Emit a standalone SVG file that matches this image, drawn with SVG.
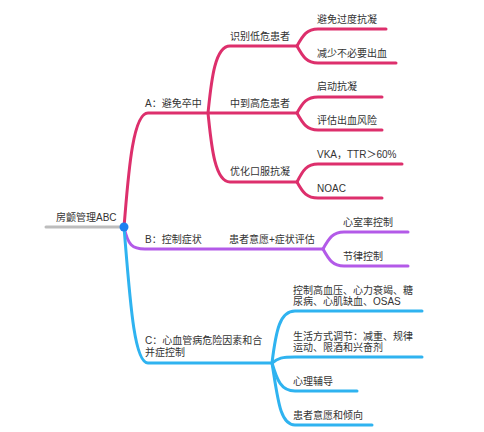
<svg xmlns="http://www.w3.org/2000/svg" width="484" height="432" viewBox="0 0 484 432">
<style>
text{font-family:"Liberation Sans","Noto Sans CJK SC",sans-serif;font-size:10px;fill:#333}
.l{fill:none;stroke-width:3;stroke-linecap:round;stroke-linejoin:round}
.a{stroke:#DD2F6C}
.b{stroke:#B35AE8}
.c{stroke:#2FB3F0}
.g{stroke:#BDBDBD}
</style>
<rect width="484" height="432" fill="#fff"/>
<g id="connectors">
<path class="l g" d="M46,227 L124,227"/>
<path class="l a" d="M124,227 C128,180 132,113 148,113 L208,113 L297,113"/>
<path class="l a" d="M208,113 C211,85 214,46 230,46 L297,46"/>
<path class="l a" d="M208,113 C211,141 214,182 230,182 L297,182"/>
<path class="l a" d="M297,46 C303,35 307,29 318,29 L386,29"/>
<path class="l a" d="M297,46 C303,57 307,63 318,63 L396,63"/>
<path class="l a" d="M297,113 C303,102 307,97 318,97 L382,97"/>
<path class="l a" d="M297,113 C303,124 307,130 318,130 L382,130"/>
<path class="l a" d="M297,182 C303,170 307,164 318,164 L402,164"/>
<path class="l a" d="M297,182 C303,193 307,198 318,198 L382,198"/>
<path class="l b" d="M124,227 C128,245 132,249 145,249 L323,249"/>
<path class="l b" d="M323,249 C329,238 333,232 344,232 L408,232"/>
<path class="l b" d="M323,249 C329,260 333,266 344,266 L408,266"/>
<path class="l c" d="M124,227 C130,300 134,363 148,363 L272,363"/>
<path class="l c" d="M272,363 C276,330 280,311 295,311 L422,311"/>
<path class="l c" d="M272,363 C278,358 282,357 295,357 L422,357"/>
<path class="l c" d="M272,363 C277,380 281,391 295,391 L357,391"/>
<path class="l c" d="M272,363 C278,400 280,425 295,425 L372,425"/>
<circle cx="124" cy="227" r="4.5" fill="#1E80F0"/>
</g>
<g id="root"><text x="56" y="221">房颤管理ABC</text></g>
<g id="nA"><text x="145" y="107">A：避免卒中</text></g>
<g id="nA1"><text x="230" y="40">识别低危患者</text></g>
<g id="nA2"><text x="230" y="107">中到高危患者</text></g>
<g id="nA3"><text x="230" y="175">优化口服抗凝</text></g>
<g id="nA1a"><text x="317" y="22.5">避免过度抗凝</text></g>
<g id="nA1b"><text x="317" y="57">减少不必要出血</text></g>
<g id="nA2a"><text x="317" y="90">启动抗凝</text></g>
<g id="nA2b"><text x="317" y="124">评估出血风险</text></g>
<g id="nA3a"><text x="317" y="158">VKA，TTR＞60%</text></g>
<g id="nA3b"><text x="317" y="192">NOAC</text></g>
<g id="nB"><text x="145" y="242.5">B：控制症状</text></g>
<g id="nB1"><text x="229" y="242.5">患者意愿+症状评估</text></g>
<g id="nB1a"><text x="343" y="226">心室率控制</text></g>
<g id="nB1b"><text x="343" y="259.5">节律控制</text></g>
<g id="nC"><text x="145" y="344">C：心血管病危险因素和合</text><text x="145" y="356">并症控制</text></g>
<g id="nC1"><text x="293" y="293.5">控制高血压、心力衰竭、糖</text><text x="293" y="304.5">尿病、心肌缺血、OSAS</text></g>
<g id="nC2"><text x="293" y="339.5">生活方式调节：减重、规律</text><text x="293" y="350.5">运动、限酒和兴奋剂</text></g>
<g id="nC3"><text x="293" y="385">心理辅导</text></g>
<g id="nC4"><text x="293" y="418.5">患者意愿和倾向</text></g>
</svg>
